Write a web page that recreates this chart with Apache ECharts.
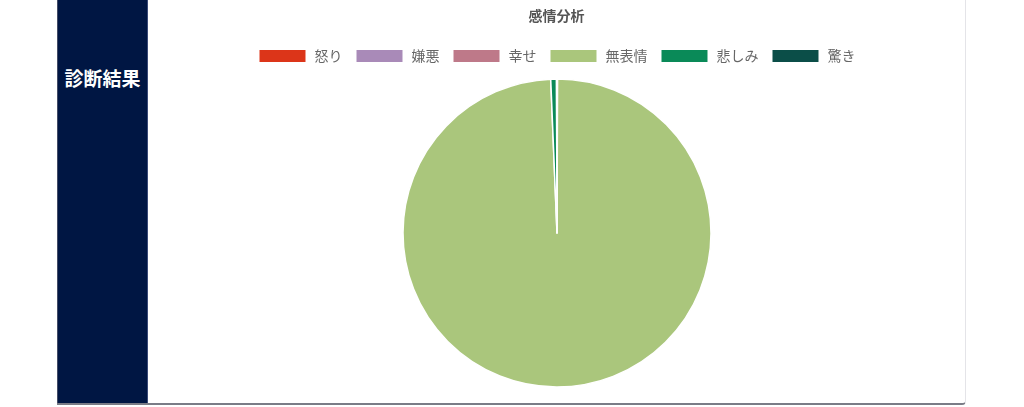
<!DOCTYPE html>
<html><head><meta charset="utf-8">
<script src="https://cdn.jsdelivr.net/npm/echarts@6/dist/echarts.min.js"></script>
<style>
html,body{margin:0;padding:0;background:#fff;width:1024px;height:407px;overflow:hidden;font-family:"Noto Sans CJK JP","Noto Sans",sans-serif;}
#wrap{position:absolute;left:57px;top:0;width:908px;height:403px;background:#fff;border-bottom:2px solid #7a7c86;border-right:1px solid #e4e4e8;border-bottom-right-radius:4px;box-sizing:content-box;}
#side{position:absolute;left:0;top:0;width:91px;height:403px;background:#001643;border-left:1px solid #444c66;border-right:1px solid #3a4a78;box-sizing:border-box;}
#side span{position:absolute;left:0;width:100%;top:64px;text-align:center;color:#fff;font-weight:bold;font-size:19px;}
#chart{position:absolute;left:91px;top:0;width:817px;height:403px;}
</style></head>
<body>
<div id="wrap"><div id="side"><span>診断結果</span></div><div id="chart"></div></div>
<script>
const categories = ['怒り','嫌悪','幸せ','無表情','悲しみ','驚き'];
const values = [0.02, 0.02, 0.02, 99.3, 0.6, 0.05];
const colors = ['#dc3519','#a98ab8','#be7989','#aac67c','#0a8a58','#0b4e48'];
const chart = echarts.init(document.getElementById('chart'));
chart.setOption({
  animation:false,
  title:{text:'感情分析',left:'center',top:4,textStyle:{fontSize:14,fontWeight:'bold',color:'#555',fontFamily:'"Noto Sans CJK JP"'}},
  legend:{top:43,left:'center',itemWidth:48,itemHeight:14,itemGap:12,icon:'rect',
    textStyle:{fontSize:14,color:'#666',fontFamily:'"Noto Sans CJK JP"',padding:[0,0,0,3]},data:categories},
  series:[{type:'pie',center:[409,233],radius:154,startAngle:90,clockwise:true,
    label:{show:false},labelLine:{show:false},minAngle:0,
    itemStyle:{borderColor:'#fff',borderWidth:1.5},
    data:categories.map((c,i)=>({name:c,value:values[i],itemStyle:{color:colors[i]}}))}]
});
</script>
</body></html>
